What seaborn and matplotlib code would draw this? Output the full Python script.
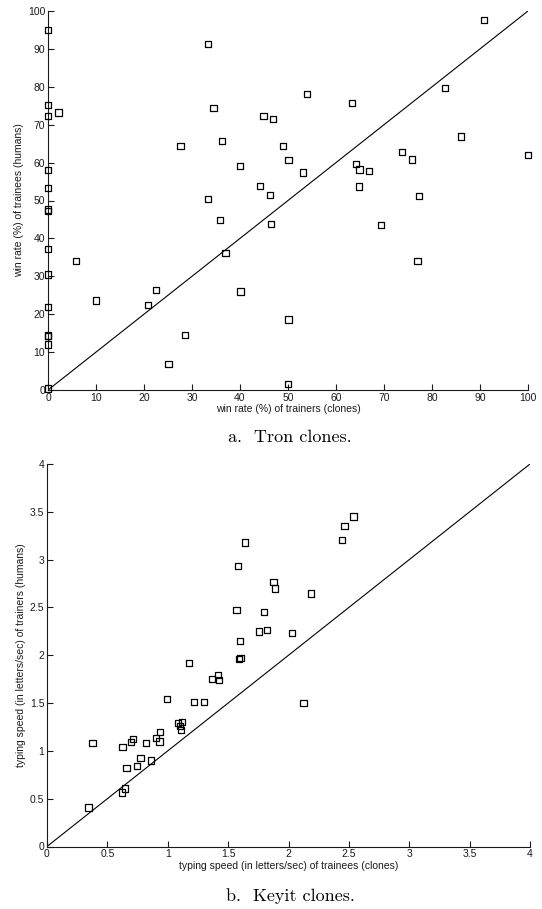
import numpy as np
import pandas as pd
import matplotlib
matplotlib.use("Agg")
import matplotlib.pyplot as plt
import seaborn as sns

# ---- Data: Tron clones (win rate %) ----
tron_clone = [0, 0, 0, 0, 0, 0, 0, 0, 0, 0, 0, 0, 0, 0,
              2.2, 5.8, 10.0, 20.9, 22.5, 25.1, 27.6, 28.6, 33.3, 33.4,
              34.5, 35.8, 36.2, 37.0, 40.0, 40.1, 44.1, 44.9, 46.2, 46.5,
              46.9, 49.0, 50.1, 50.1, 50.0, 53.1, 54.0, 63.3, 64.2, 64.9,
              64.8, 66.8, 69.3, 73.7, 75.9, 77.3, 77.0, 82.7, 86.1, 90.8, 100]
tron_human = [94.9, 75.1, 72.2, 58.0, 53.4, 47.6, 47.2, 37.3, 30.5, 22.0,
              14.4, 14.2, 12.0, 0.4,
              73.2, 34.1, 23.6, 22.5, 26.4, 6.9, 64.3, 14.6, 91.2, 50.4,
              74.5, 44.9, 65.6, 36.2, 59.1, 26.0, 53.9, 72.3, 51.5, 43.8,
              71.4, 64.3, 60.6, 18.6, 1.6, 57.4, 78.2, 75.7, 59.7, 58.2,
              53.7, 57.8, 43.6, 62.7, 60.8, 51.2, 34.1, 79.6, 66.9, 97.6, 62.0]

# ---- Data: Keyit clones (typing speed, letters/sec) ----
key_clone = [0.343, 0.376, 0.624, 0.648, 0.626, 0.659, 0.698, 0.712, 0.747,
             0.775, 0.819, 0.863, 0.901, 0.931, 0.937, 0.997, 1.082, 1.118,
             1.104, 1.110, 1.173, 1.220, 1.297, 1.368, 1.418, 1.426, 1.591,
             1.602, 1.596, 1.637, 1.580, 1.569, 1.876, 1.890, 1.799, 1.758,
             1.819, 2.538, 2.464, 2.440, 2.184, 2.030, 2.124]
key_human = [0.408, 1.082, 0.565, 0.607, 1.037, 0.817, 1.089, 1.127, 0.845,
             0.928, 1.085, 0.900, 1.131, 1.099, 1.197, 1.543, 1.295, 1.298,
             1.264, 1.222, 1.920, 1.508, 1.508, 1.749, 1.794, 1.745, 1.958,
             1.972, 2.150, 3.180, 2.932, 2.475, 2.768, 2.698, 2.450, 2.248,
             2.262, 3.452, 3.351, 3.204, 2.646, 2.230, 1.497]

tron_ticks = [0, 10, 20, 30, 40, 50, 60, 70, 80, 90, 100]
key_ticks = [0, 0.5, 1, 1.5, 2, 2.5, 3, 3.5, 4]
key_ticklabels = ["0", "0.5", "1", "1.5", "2", "2.5", "3", "3.5", "4"]

sns.set_theme(style="ticks")
plt.rcParams['font.family'] = ['Liberation Sans', 'DejaVu Sans']

fig = plt.figure(figsize=(5.42, 9.09), dpi=100)
ax1 = fig.add_axes([48/542, 1-390/909, 480/542, 379/909])
ax2 = fig.add_axes([47/542, 1-846.5/909, 483/542, 382.5/909])

tron_df = pd.DataFrame({"clone": tron_clone, "human": tron_human})
key_df = pd.DataFrame({"clone": key_clone, "human": key_human})

ink = "#1a1a1a"

def style(ax, lim, ticks, labels, xlabel, ylabel):
    ax.set_xlim(0, lim)
    ax.set_ylim(0, lim)
    ax.axline((0, 0), slope=1, color="black", lw=0.8, zorder=1)
    ax.set_xticks(ticks)
    ax.set_yticks(ticks)
    ax.set_xticklabels(labels)
    ax.set_yticklabels(labels)
    ax.tick_params(direction="in", length=4, width=0.8, labelsize=7.5,
                   colors=ink, pad=2)
    for s in ["top", "right"]:
        ax.spines[s].set_visible(False)
    for s in ["left", "bottom"]:
        ax.spines[s].set_color(ink)
        ax.spines[s].set_linewidth(0.8)
    ax.set_xlabel(xlabel, fontsize=7.5, color=ink, labelpad=1)
    ax.set_ylabel(ylabel, fontsize=7.5, color=ink, labelpad=3)
    ax.set_facecolor("white")

sns.scatterplot(data=tron_df, x="clone", y="human", ax=ax1, marker="s",
                s=20, facecolor="none", edgecolor="black", linewidth=0.9,
                clip_on=False, zorder=3)
style(ax1, 100, tron_ticks, [str(t) for t in tron_ticks],
      "win rate (%) of trainers (clones)",
      "win rate (%) of trainees (humans)")

sns.scatterplot(data=key_df, x="clone", y="human", ax=ax2, marker="s",
                s=20, facecolor="none", edgecolor="black", linewidth=0.9,
                clip_on=False, zorder=3)
style(ax2, 4, key_ticks, key_ticklabels,
      "typing speed (in letters/sec) of trainees (clones)",
      "typing speed (in letters/sec) of trainers (humans)")

fig.text(290/542, 1-437/909, "a.  Tron clones.", ha="center", va="center",
         fontsize=13, family=["cmr10", "DejaVu Serif"], color="black")
fig.text(290/542, 1-896/909, "b.  Keyit clones.", ha="center", va="center",
         fontsize=13, family=["cmr10", "DejaVu Serif"], color="black")

fig.savefig("out.png", dpi=100, facecolor="white")
